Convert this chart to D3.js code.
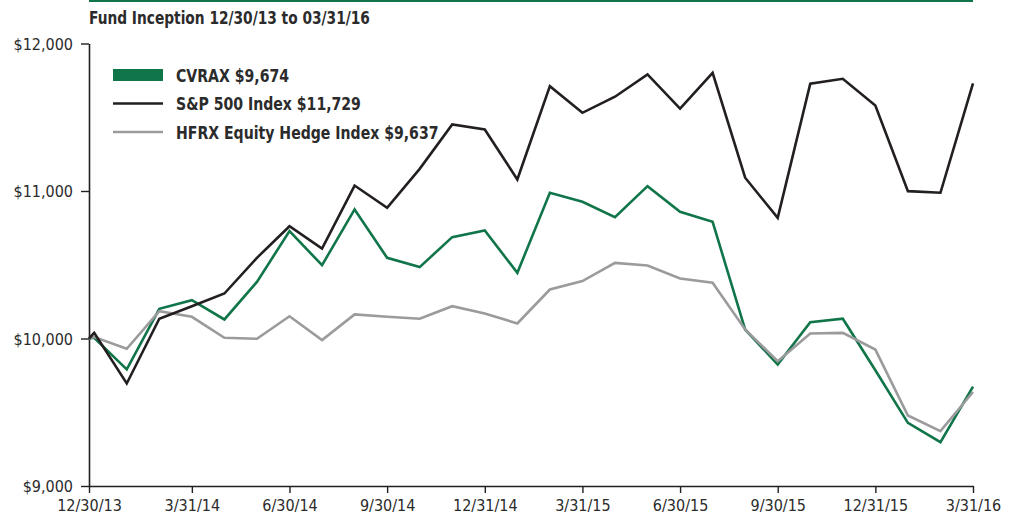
<!DOCTYPE html>
<html>
<head>
<meta charset="utf-8">
<script src="https://cdn.jsdelivr.net/npm/d3@7"></script>
<style>
  body { margin: 0; background: #fff; }
  svg { display: block; font-family: "Liberation Sans Narrow", "DejaVu Sans Condensed", "Liberation Sans", sans-serif; }
</style>
</head>
<body>
<div id="chart"></div>
<script>
// period labels: fund inception, then month ends
const dates = ["12/30/13", "12/31/13", "1/31/14", "2/28/14", "3/31/14", "4/30/14", "5/31/14", "6/30/14",
  "7/31/14", "8/31/14", "9/30/14", "10/31/14", "11/30/14", "12/31/14", "1/31/15", "2/28/15", "3/31/15",
  "4/30/15", "5/31/15", "6/30/15", "7/31/15", "8/31/15", "9/30/15", "10/31/15", "11/30/15", "12/31/15",
  "1/31/16", "2/29/16", "3/31/16"];
const inceptionOffset = -0.16; // inception sits a bit left of the first month end

const cvrax = [10000, 10005, 9790, 10201, 10260, 10129, 10384, 10728, 10497, 10875, 10547, 10484, 10687,
  10732, 10445, 10988, 10927, 10822, 11033, 10859, 10791, 10061, 9824, 10111, 10134, 9785, 9428, 9297, 9674];
const sp500 = [10000, 10038, 9695, 10134, 10219, 10305, 10547, 10761, 10610, 11037, 10886, 11150, 11451,
  11417, 11078, 11711, 11530, 11639, 11790, 11559, 11801, 11090, 10818, 11727, 11761, 11580, 10999, 10988, 11729];
const hfrx = [10000, 10010, 9930, 10185, 10147, 10005, 9998, 10151, 9989, 10163, 10147, 10134, 10219,
  10170, 10102, 10332, 10389, 10513, 10495, 10407, 10378, 10061, 9846, 10034, 10038, 9925, 9478, 9372, 9637];

const xTickLabels = ["12/30/13", "3/31/14", "6/30/14", "9/30/14", "12/31/14", "3/31/15", "6/30/15", "9/30/15", "12/31/15", "3/31/16"];
const yTicks = [9000, 10000, 11000, 12000];

const series = [
  {name: "CVRAX $9,674", values: cvrax, color: "#11754a", legend: "rect"},
  {name: "HFRX Equity Hedge Index $9,637", values: hfrx, color: "#9b9b9d", legend: "line"},
  {name: "S&P 500 Index $11,729", values: sp500, color: "#231f20", legend: "line"}
];
const legendOrder = [0, 2, 1];

const W = 1019, H = 518;
const margin = {top: 43.5, right: 46, bottom: 32, left: 89};
const textColor = "#2b2b2b";

const svg = d3.select("#chart").append("svg")
  .attr("width", W)
  .attr("height", H);

function pos(i) { return i === 0 ? inceptionOffset : i - 1; }

const x = d3.scaleLinear()
  .domain([inceptionOffset, dates.length - 2])
  .range([margin.left, W - margin.right]);
const y = d3.scaleLinear()
  .domain([9000, 12000])
  .range([H - margin.bottom, margin.top]);

// top rule + title
svg.append("line")
  .attr("x1", margin.left).attr("x2", W - margin.right)
  .attr("y1", 1).attr("y2", 1)
  .attr("stroke", "#11754a").attr("stroke-width", 2);

svg.append("text")
  .attr("transform", "translate(" + margin.left + ",24) scale(0.9,1)")
  .attr("fill", textColor)
  .style("font-size", "17px")
  .style("font-weight", "bold")
  .text("Fund Inception 12/30/13 to 03/31/16");

// axes
const tickIdx = xTickLabels.map(l => dates.indexOf(l));
const xAxis = d3.axisBottom(x)
  .tickValues(tickIdx.map(pos))
  .tickFormat((d, i) => xTickLabels[i])
  .tickSize(7).tickSizeOuter(0).tickPadding(7);

const gx = svg.append("g")
  .attr("transform", "translate(0," + y(9000) + ")")
  .call(xAxis);

const yAxis = d3.axisLeft(y)
  .tickValues(yTicks)
  .tickFormat(d => "$" + d3.format(",")(d))
  .tickSize(8).tickSizeOuter(0).tickPadding(8);

const gy = svg.append("g")
  .attr("transform", "translate(" + margin.left + ",0)")
  .call(yAxis);

[gx, gy].forEach(g => {
  g.select(".domain").attr("stroke", "#231f20").attr("stroke-width", 1.6);
  g.selectAll(".tick line").attr("stroke", "#231f20").attr("stroke-width", 1.4);
  g.selectAll(".tick text")
    .attr("fill", textColor)
    .style("font-size", "16px")
    .style("font-family", "'Liberation Sans Narrow', 'DejaVu Sans Condensed', sans-serif");
});
gy.selectAll(".tick text").attr("dy", "0.36em");

// lines
const line = d3.line()
  .x((d, i) => x(pos(i)))
  .y(d => y(d));

svg.append("g").selectAll("path")
  .data(series)
  .join("path")
    .attr("d", d => line(d.values))
    .attr("fill", "none")
    .attr("stroke", d => d.color)
    .attr("stroke-width", 2.6)
    .attr("stroke-linejoin", "miter");

// legend
const legend = svg.append("g").attr("transform", "translate(113,75)");
legendOrder.forEach((k, j) => {
  const s = series[k];
  const g = legend.append("g").attr("transform", "translate(0," + j * 28.5 + ")");
  if (s.legend === "rect") {
    g.append("rect").attr("x", 0).attr("y", -6).attr("width", 50).attr("height", 12).attr("fill", s.color);
  } else {
    g.append("line").attr("x1", 0).attr("x2", 50).attr("y1", 0).attr("y2", 0)
      .attr("stroke", s.color).attr("stroke-width", 2.6);
  }
  g.append("text")
    .attr("transform", "translate(63,6.5) scale(0.87,1)")
    .attr("fill", textColor)
    .style("font-size", "18px")
    .style("font-weight", "bold")
    .text(s.name);
});
</script>
</body>
</html>
